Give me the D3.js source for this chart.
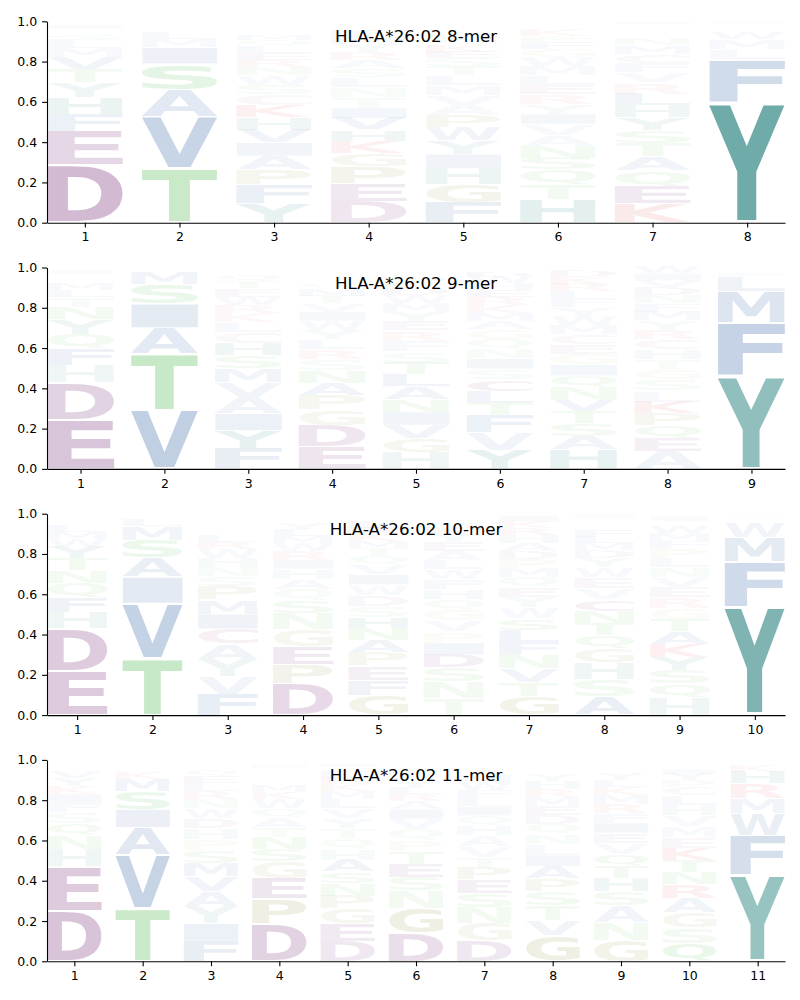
<!DOCTYPE html>
<html><head><meta charset="utf-8">
<script src="https://cdn.jsdelivr.net/npm/d3@7"></script>
<style>body{margin:0;background:#fff}</style>
</head><body>
<svg id="c" width="800" height="1000"></svg>
<script>
// ---------- DATA (letter probabilities per position, bottom-to-top as read) ----------
const titles = ["HLA-A*26:02 8-mer", "HLA-A*26:02 9-mer", "HLA-A*26:02 10-mer", "HLA-A*26:02 11-mer"];

const logo8Letters = [
  "DEFHYTVMLSAIK",
  "TVASIMLQNGED",
  "YFPAIVHKCSWNRELQMTDG",
  "DEPGKHVITNLSARYMFWCQ",
  "FGHIYWPAVMLTSEQNRDKC",
  "HTQSNAVIYRLMEWGFPKDC",
  "KEQATSYHLRVCFMNGWDPI",
  "YFLMWHRKIV"
];
const logo8Values = [
  [.285,.17,.085,.083,.075,.065,.06,.045,.04,.03,.025,.02,.017],
  [.27,.255,.135,.13,.08,.04,.03,.02,.015,.01,.01,.005],
  [.095,.093,.075,.068,.066,.064,.06,.06,.054,.05,.045,.042,.036,.035,.032,.03,.028,.025,.02,.018],
  [.105,.09,.085,.065,.06,.057,.057,.053,.05,.05,.048,.045,.042,.04,.04,.035,.03,.02,.015,.012],
  [.1,.09,.08,.07,.068,.066,.058,.052,.05,.05,.048,.045,.04,.032,.03,.028,.025,.022,.031,.015],
  [.115,.075,.072,.06,.058,.056,.054,.05,.05,.048,.045,.045,.047,.045,.04,.035,.03,.03,.025,.02],
  [.095,.085,.078,.07,.066,.065,.063,.06,.058,.055,.05,.045,.048,.042,.03,.025,.02,.015,.015,.015],
  [.6,.21,.05,.05,.03,.02,.015,.01,.01,.005]
];

const logo9Letters = [
  "EDHFQYNTLMAVIK",
  "VTAISMLCQN",
  "FYIAVMSHCLKRWETQNGDP",
  "EDGPANSRLYWIVTMQHFCK",
  "HGVINALTSFREYMWDPQCK",
  "YVFTLCSINQGAMKREHWDP",
  "HASTVNQIGECMWYFLRKDP",
  "AEQPKLSGTHCRYMFNDVIW",
  "YFMLIWVHC"
];
const logo9Values = [
  [.245,.185,.085,.08,.075,.072,.06,.05,.035,.03,.025,.025,.02,.013],
  [.29,.28,.13,.12,.095,.06,.01,.005,.005,.005],
  [.1,.09,.085,.08,.075,.07,.065,.06,.055,.05,.045,.04,.04,.04,.035,.03,.015,.01,.01,.005],
  [.11,.105,.08,.072,.06,.06,.055,.05,.05,.048,.045,.045,.042,.038,.036,.028,.025,.02,.015,.015],
  [.08,.07,.068,.065,.063,.062,.06,.058,.056,.054,.05,.048,.046,.044,.04,.035,.03,.028,.025,.022],
  [.092,.088,.085,.062,.06,.058,.052,.05,.05,.048,.046,.042,.041,.04,.038,.035,.033,.03,.028,.022],
  [.095,.065,.064,.06,.06,.06,.058,.055,.053,.05,.048,.046,.045,.042,.04,.04,.038,.035,.03,.016],
  [.088,.065,.062,.06,.058,.056,.054,.052,.05,.05,.048,.047,.046,.044,.042,.04,.038,.036,.034,.03],
  [.46,.265,.155,.075,.02,.01,.005,.005,.005]
];

const logo10Letters = [
  "EDHFQNTYWMLAKV",
  "TVIASMLQNE",
  "FVYACIMPSNHWRLETQGDK",
  "DPEGNSQAHIRWMLYTVF",
  "GFEPANHSDWIVQTMKRLCY",
  "TNSDIPVGQHFWLAEYKMRC",
  "GTVNFLSWYEQMPDAHRKIC",
  "ASHGQTNCVEWYDMLFKRIP",
  "HQSYKATGREVNLPFMWDIC",
  "YFMWLIHV"
];
const logo10Values = [
  [.22,.21,.078,.075,.072,.062,.06,.058,.04,.035,.03,.025,.02,.015],
  [.28,.275,.13,.095,.09,.07,.03,.01,.01,.01],
  [.105,.088,.085,.075,.075,.074,.07,.065,.05,.048,.045,.045,.035,.03,.025,.025,.02,.015,.01,.015],
  [.155,.095,.09,.085,.08,.065,.055,.05,.05,.045,.045,.04,.035,.03,.03,.025,.02,.005],
  [.1,.075,.07,.065,.062,.058,.057,.055,.055,.05,.05,.048,.045,.04,.035,.035,.03,.03,.025,.015],
  [.085,.08,.07,.065,.058,.056,.054,.054,.052,.05,.05,.048,.048,.046,.046,.035,.03,.028,.025,.02],
  [.092,.07,.068,.066,.065,.06,.058,.055,.052,.05,.048,.045,.045,.04,.04,.038,.036,.032,.03,.01],
  [.09,.086,.084,.07,.065,.06,.06,.058,.056,.054,.05,.045,.04,.035,.03,.03,.025,.02,.02,.022],
  [.085,.07,.068,.066,.064,.062,.058,.056,.054,.052,.05,.048,.047,.045,.04,.038,.035,.025,.022,.015],
  [.535,.225,.12,.075,.02,.01,.01,.005]
];

const logo11Letters = [
  "DEHNQSFIKYVLAM",
  "TVAISMKLQNER",
  "FIYAVMSPHDWNRLEQKT",
  "DPEGSNTAQWKMRFLVIYH",
  "DEGPNSAHQTYVLMKRFWIC",
  "DGNSETPQVIARLYMHCWFK",
  "DGNSEPTVAHQILFWMKYCR",
  "GVTSPAILNQDEMRHYWFKC",
  "GNASHTQVEIFRMKLYWDPC",
  "QSGARNTKEMVHLCPYIFWD",
  "YFWMRHKLI"
];
const logo11Values = [
  [.25,.22,.085,.07,.058,.055,.048,.045,.04,.04,.035,.02,.019,.015],
  [.265,.262,.138,.09,.09,.06,.03,.025,.015,.01,.01,.005],
  [.1,.088,.085,.075,.072,.068,.062,.055,.055,.05,.05,.045,.04,.04,.035,.03,.025,.025],
  [.185,.125,.1,.085,.06,.06,.05,.05,.045,.045,.035,.03,.025,.025,.02,.02,.015,.015,.01],
  [.1,.085,.075,.065,.062,.058,.058,.055,.053,.05,.05,.048,.045,.04,.035,.03,.03,.025,.02,.015],
  [.139,.125,.085,.068,.065,.062,.056,.055,.052,.048,.04,.035,.03,.03,.025,.02,.02,.015,.015,.015],
  [.1,.088,.078,.07,.068,.06,.055,.054,.052,.05,.048,.045,.042,.04,.038,.035,.025,.02,.017,.015],
  [.13,.075,.072,.068,.064,.062,.056,.054,.05,.048,.048,.045,.045,.04,.038,.035,.025,.02,.015,.01],
  [.105,.088,.085,.07,.066,.06,.058,.055,.05,.05,.048,.045,.045,.04,.035,.03,.025,.02,.015,.01],
  [.09,.078,.074,.072,.066,.063,.06,.058,.056,.054,.053,.051,.048,.04,.035,.03,.025,.02,.015,.012],
  [.43,.195,.11,.075,.072,.058,.035,.02,.005]
];

const yTicks = [0, 0.2, 0.4, 0.6, 0.8, 1.0];

// ---------- STYLE ----------
const purple = "rgb(100,15,100)", green = "rgb(55,175,55)", olive = "rgb(130,130,40)",
      blue = "rgb(40,90,160)", teal = "rgb(15,115,112)", red = "rgb(210,30,30)", pink = "rgb(130,40,110)";
const letterColor = {D:purple,E:purple,C:pink,T:green,S:green,N:green,Q:green,G:olive,P:olive,
  A:blue,V:blue,I:blue,L:blue,M:blue,F:blue,W:blue,Y:teal,H:teal,K:red,R:red};

const panelsLetters = [logo8Letters, logo9Letters, logo10Letters, logo11Letters];
const panelsValues = [logo8Values, logo9Values, logo10Values, logo11Values];

const svg = d3.select("#c");
const FONT = '"DejaVu Sans", sans-serif';
const canvas = document.createElement("canvas");
const ctx = canvas.getContext("2d");
const FPX = 100;
ctx.font = `bold ${FPX}px "DejaVu Sans"`;
const metricCache = {};
function gm(ch) {
  if (!metricCache[ch]) {
    const m = ctx.measureText(ch);
    metricCache[ch] = {L: m.actualBoundingBoxLeft, R: m.actualBoundingBoxRight,
                       A: m.actualBoundingBoxAscent, D: m.actualBoundingBoxDescent};
  }
  return metricCache[ch];
}

const left = 47, right = 785, top0 = 21.3, step = 246.2, ph = 201.4;
const vpad = 0.05, widthFrac = 0.8;
const tickFont = 12.5;

panelsLetters.forEach((letters, pi) => {
  const vals = panelsValues[pi];
  const n = letters.length;
  const top = top0 + pi * step, bottom = top + ph;
  const x = d3.scaleLinear().domain([0.6, n + 0.4]).range([left, right]);
  const y = d3.scaleLinear().domain([0, 1]).range([bottom, top]);
  const g = svg.append("g");

  letters.forEach((str, ci) => {
    const pos = ci + 1;
    const items = str.split("").map((ch, k) => ({ch, v: vals[ci][k]}));
    items.sort((a, b) => b.v - a.v); // largest at bottom
    let cum = 0;
    const bx0 = x(pos - widthFrac / 2), bx1 = x(pos + widthFrac / 2);
    items.forEach(it => {
      const y0 = cum, y1 = cum + it.v;
      cum = y1;
      const gy1 = y1 - it.v * vpad / 2, gy0 = y0 + it.v * vpad / 2;
      const byTop = y(gy1), byBot = y(gy0);
      const bw = bx1 - bx0, bh = byBot - byTop;
      if (bh <= 0) return;
      const m = gm(it.ch);
      const sx = bw / (m.L + m.R), sy = bh / (m.A + m.D);
      g.append("text")
        .attr("x", 0).attr("y", 0)
        .attr("font-family", FONT).attr("font-weight", "bold").attr("font-size", FPX)
        .attr("fill", letterColor[it.ch] || "#888")
        .attr("fill-opacity", Math.min(1, it.v))
        .attr("transform", `translate(${bx0 + m.L * sx},${byTop + m.A * sy}) scale(${sx},${sy})`)
        .text(it.ch);
    });
  });

  // axes
  const ya = g.append("g").attr("transform", `translate(${left},0)`)
    .call(d3.axisLeft(y).tickValues(yTicks).tickFormat(d3.format(".1f")).tickSize(4.9).tickPadding(4.9).tickSizeOuter(0));
  const xa = g.append("g").attr("transform", `translate(0,${bottom})`)
    .call(d3.axisBottom(x).tickValues(d3.range(1, n + 1)).tickFormat(d3.format("d")).tickSize(4.9).tickPadding(4.9).tickSizeOuter(0));
  [ya, xa].forEach(a => {
    a.attr("font-family", FONT).attr("font-size", tickFont);
    a.selectAll("path.domain").attr("stroke", "#000").attr("stroke-width", 1.1);
    a.selectAll(".tick line").attr("stroke", "#000").attr("stroke-width", 1.1);
    a.selectAll(".tick text").attr("fill", "#000");
  });

  g.append("text")
    .attr("x", (left + right) / 2).attr("y", top + 21)
    .attr("text-anchor", "middle")
    .attr("font-family", FONT).attr("font-size", 16.7).attr("fill", "#000")
    .text(titles[pi]);
});
</script>
</body></html>
